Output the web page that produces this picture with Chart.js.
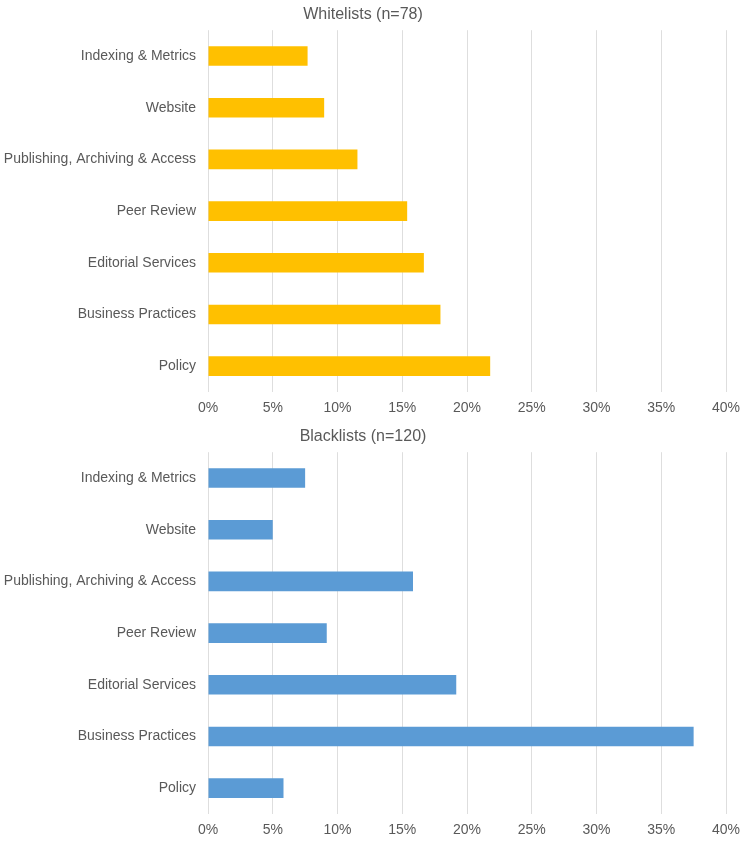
<!DOCTYPE html>
<html>
<head>
<meta charset="utf-8">
<script src="https://cdn.jsdelivr.net/npm/chart.js@4"></script>
<style>
    html, body { margin: 0; padding: 0; background: #ffffff; }
    .painel { position: relative; width: 750px; height: 422px; }
</style>
</head>
<body>
<div class="painel"><canvas id="grafico-white"></canvas></div>
<div class="painel"><canvas id="grafico-black"></canvas></div>
<script>
const categorias = [
    'Indexing & Metrics',
    'Website',
    'Publishing, Archiving & Access',
    'Peer Review',
    'Editorial Services',
    'Business Practices',
    'Policy'
];

// percentuais
const whitelistPct = [7.69, 8.97, 11.54, 15.38, 16.67, 17.95, 21.79];
const blacklistPct = [7.5, 5.0, 15.83, 9.17, 19.17, 37.5, 5.83];

const eixoX = { min: 0, max: 40, passo: 5 };

const corTexto = '#595959';
const corGrade = '#dedede';
const fonte = "'Liberation Sans', Arial, sans-serif";

function montarGrafico(id, titulo, valores, cor) {
    const ctx = document.getElementById(id);
    return new Chart(ctx, {
        type: 'bar',
        data: {
            labels: categorias,
            datasets: [{
                data: valores,
                backgroundColor: cor,
                categoryPercentage: 1,
                barPercentage: 0.38
            }]
        },
        options: {
            indexAxis: 'y',
            responsive: true,
            maintainAspectRatio: false,
            animation: false,
            layout: { padding: { left: 0, right: 24, top: 0, bottom: 0 } },
            plugins: {
                legend: { display: false },
                tooltip: { enabled: false },
                title: {
                    display: true,
                    text: titulo,
                    color: corTexto,
                    font: { family: fonte, size: 16, weight: 'normal' },
                    padding: { top: 5, bottom: 6 }
                }
            },
            scales: {
                x: {
                    min: eixoX.min,
                    max: eixoX.max,
                    ticks: {
                        stepSize: eixoX.passo,
                        color: corTexto,
                        font: { family: fonte, size: 14 },
                        padding: 8,
                        maxRotation: 0,
                        callback: v => v + '%'
                    },
                    grid: { color: corGrade, drawTicks: false },
                    border: { display: false },
                    afterFit: s => { s.height = 30; }
                },
                y: {
                    ticks: {
                        color: corTexto,
                        font: { family: fonte, size: 14 },
                        padding: 12
                    },
                    grid: { display: false, drawTicks: false },
                    border: { display: false },
                    afterFit: s => { s.width = 208; }
                }
            }
        }
    });
}

montarGrafico('grafico-white', 'Whitelists (n=78)', whitelistPct, '#ffc000');
montarGrafico('grafico-black', 'Blacklists (n=120)', blacklistPct, '#5b9bd5');
</script>
</body>
</html>
